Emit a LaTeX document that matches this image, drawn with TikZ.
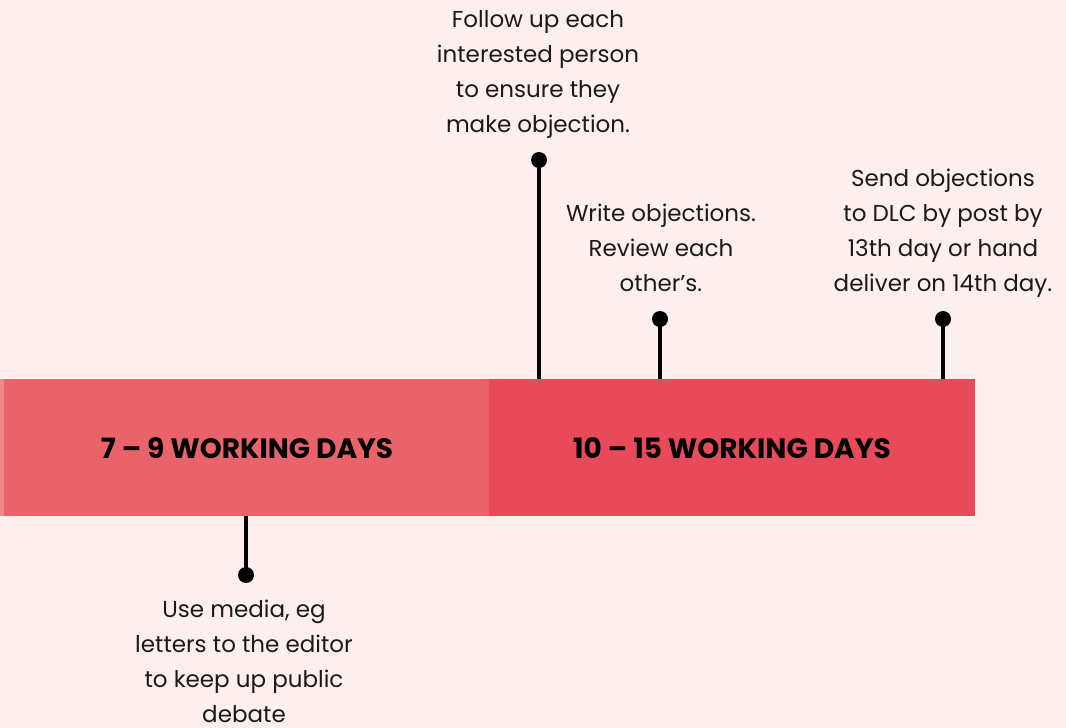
\documentclass[tikz,border=0pt]{standalone}
\usepackage{fontspec}
\setmainfont{Poppins}
\definecolor{bgpink}{HTML}{FDEFEE}
\definecolor{barleft}{HTML}{EB636A}
\definecolor{barright}{HTML}{E84A5A}
\definecolor{barstrip}{HTML}{F0898A}
\definecolor{ink}{HTML}{1A1A1A}
\tikzset{
  barbox/.style={draw=none, inner sep=0pt, outer sep=0pt, anchor=north west},
  barlabel/.style={font=\fontsize{28}{30}\selectfont\bfseries, text=black, inner sep=0pt, anchor=base},
  note/.style={font=\fontsize{23}{34.7}\selectfont, text=ink, align=center, inner sep=0pt, anchor=base},
  pin/.style={circle, fill=black, inner sep=0pt, minimum size=16pt},
  stem/.style={line width=4pt, draw=black}
}
\begin{document}
\begin{tikzpicture}[x=1pt,y=-1pt]
\useasboundingbox (0,0) rectangle (1066,728);
\fill[bgpink] (0,0) rectangle (1066,728);
% bars
\node[barbox, fill=barleft, minimum width=489pt, minimum height=137pt] (barL) at (0,379) {};
\node[barbox, fill=barright, minimum width=486pt, minimum height=137pt] (barR) at (489,379) {};
\fill[barstrip] (barL.north west) rectangle ([xshift=4pt]barL.south west);
\node[barlabel] (labL) at (247,458) {7 – 9 WORKING DAYS};
\node[barlabel] (labR) at (732,458) {10 – 15 WORKING DAYS};
% pins
\node[pin] (p1) at (539,160) {};
\node[pin] (p2) at (660,319) {};
\node[pin] (p3) at (943,319) {};
\node[pin] (p4) at (246,575) {};
\draw[stem] (p1.center) -- (p1.center |- barR.north);
\draw[stem] (p2.center) -- (p2.center |- barR.north);
\draw[stem] (p3.center) -- (p3.center |- barR.north);
\draw[stem] (p4.center) -- (p4.center |- barL.south);
% notes (anchor = baseline of last line)
\node[note] (n1) at (538,132) {Follow up each\\interested person\\to ensure they\\make objection.};
\node[note] (n2) at (661,291) {Write objections.\\Review each\\other’s.};
\node[note] (n3) at (943,291) {Send objections\\to DLC by post by\\13th day or hand\\deliver on 14th day.};
\node[note] (n4) at (244,722) {Use media, eg\\letters to the editor\\to keep up public\\debate};
\end{tikzpicture}
\end{document}
